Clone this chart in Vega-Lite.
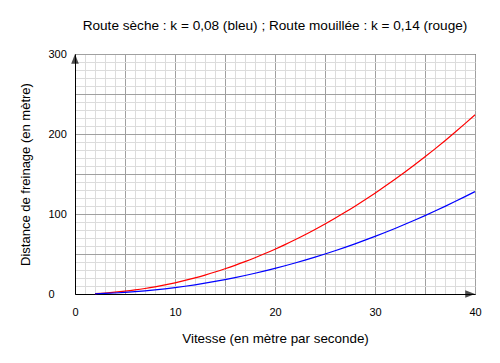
{
  "$schema": "https://vega.github.io/schema/vega-lite/v6.json",
  "width": 400,
  "height": 240,
  "autosize": {"type": "none"},
  "padding": {"left": 75, "top": 54, "right": 25, "bottom": 69},
  "background": "#ffffff",
  "config": {
    "view": {"stroke": "#000000", "strokeWidth": 1},
    "font": "Liberation Sans"
  },
  "title": {
    "text": "Route sèche : k = 0,08 (bleu) ; Route mouillée : k = 0,14 (rouge)",
    "font": "Liberation Sans",
    "fontSize": 13.6,
    "fontWeight": "normal",
    "color": "#000000",
    "anchor": "middle",
    "frame": "group",
    "baseline": "alphabetic",
    "offset": 4
  },
  "encoding": {
    "x": {
      "field": "v",
      "type": "quantitative",
      "scale": {"domain": [0, 40], "nice": false, "zero": false},
      "axis": {
        "title": "Vitesse (en mètre par seconde)",
        "values": [0,1,2,3,4,5,6,7,8,9,10,11,12,13,14,15,16,17,18,19,20,21,22,23,24,25,26,27,28,29,30,31,32,33,34,35,36,37,38,39,40],
        "labelExpr": "datum.value % 10 === 0 ? datum.label : ''",
        "labelOverlap": false,
        "labelFlush": false,
        "grid": true,
        "gridColor": {"condition": {"test": "datum.value % 5 === 0", "value": "#a0a0a0"}, "value": "#dcdcdc"},
        "gridWidth": 1,
        "ticks": false,
        "domainColor": "#000000",
        "domainWidth": 1,
        "labelPadding": 12,
        "labelBaseline": "top",
        "labelFont": "Liberation Sans",
        "labelFontSize": 11,
        "labelColor": "#000000",
        "titleFont": "Liberation Sans",
        "titleFontSize": 13.4,
        "titleFontWeight": "normal",
        "titleColor": "#000000",
        "titlePadding": 14
      }
    },
    "y": {
      "field": "d",
      "type": "quantitative",
      "scale": {"domain": [0, 300], "nice": false, "zero": false},
      "axis": {
        "title": "Distance de freinage (en mètre)",
        "values": [0,10,20,30,40,50,60,70,80,90,100,110,120,130,140,150,160,170,180,190,200,210,220,230,240,250,260,270,280,290,300],
        "labelExpr": "datum.value % 100 === 0 ? datum.label : ''",
        "labelOverlap": false,
        "labelFlush": false,
        "grid": true,
        "gridColor": {"condition": {"test": "datum.value % 50 === 0", "value": "#a0a0a0"}, "value": "#dcdcdc"},
        "gridWidth": 1,
        "ticks": false,
        "domainColor": "#000000",
        "domainWidth": 1,
        "labelPadding": 27,
        "labelAlign": "left",
        "labelBaseline": "middle",
        "labelFont": "Liberation Sans",
        "labelFontSize": 11,
        "labelColor": "#000000",
        "titleFont": "Liberation Sans",
        "titleFontSize": 13,
        "titleFontWeight": "normal",
        "titleColor": "#000000",
        "titlePadding": 16
      }
    }
  },
  "layer": [
    {
      "data": {
        "values": [
          {"v": 2, "bleu": 0.32, "rouge": 0.56},
          {"v": 3, "bleu": 0.72, "rouge": 1.26},
          {"v": 4, "bleu": 1.28, "rouge": 2.24},
          {"v": 5, "bleu": 2, "rouge": 3.5},
          {"v": 6, "bleu": 2.88, "rouge": 5.04},
          {"v": 7, "bleu": 3.92, "rouge": 6.86},
          {"v": 8, "bleu": 5.12, "rouge": 8.96},
          {"v": 9, "bleu": 6.48, "rouge": 11.34},
          {"v": 10, "bleu": 8, "rouge": 14},
          {"v": 11, "bleu": 9.68, "rouge": 16.94},
          {"v": 12, "bleu": 11.52, "rouge": 20.16},
          {"v": 13, "bleu": 13.52, "rouge": 23.66},
          {"v": 14, "bleu": 15.68, "rouge": 27.44},
          {"v": 15, "bleu": 18, "rouge": 31.5},
          {"v": 16, "bleu": 20.48, "rouge": 35.84},
          {"v": 17, "bleu": 23.12, "rouge": 40.46},
          {"v": 18, "bleu": 25.92, "rouge": 45.36},
          {"v": 19, "bleu": 28.88, "rouge": 50.54},
          {"v": 20, "bleu": 32, "rouge": 56},
          {"v": 21, "bleu": 35.28, "rouge": 61.74},
          {"v": 22, "bleu": 38.72, "rouge": 67.76},
          {"v": 23, "bleu": 42.32, "rouge": 74.06},
          {"v": 24, "bleu": 46.08, "rouge": 80.64},
          {"v": 25, "bleu": 50, "rouge": 87.5},
          {"v": 26, "bleu": 54.08, "rouge": 94.64},
          {"v": 27, "bleu": 58.32, "rouge": 102.06},
          {"v": 28, "bleu": 62.72, "rouge": 109.76},
          {"v": 29, "bleu": 67.28, "rouge": 117.74},
          {"v": 30, "bleu": 72, "rouge": 126},
          {"v": 31, "bleu": 76.88, "rouge": 134.54},
          {"v": 32, "bleu": 81.92, "rouge": 143.36},
          {"v": 33, "bleu": 87.12, "rouge": 152.46},
          {"v": 34, "bleu": 92.48, "rouge": 161.84},
          {"v": 35, "bleu": 98, "rouge": 171.5},
          {"v": 36, "bleu": 103.68, "rouge": 181.44},
          {"v": 37, "bleu": 109.52, "rouge": 191.66},
          {"v": 38, "bleu": 115.52, "rouge": 202.16},
          {"v": 39, "bleu": 121.68, "rouge": 212.94},
          {"v": 40, "bleu": 128, "rouge": 224}
        ]
      },
      "transform": [{"fold": ["rouge", "bleu"], "as": ["route", "d"]}],
      "mark": {"type": "line", "strokeWidth": 1.2, "interpolate": "monotone"},
      "encoding": {
        "color": {
          "field": "route",
          "type": "nominal",
          "scale": {"domain": ["bleu", "rouge"], "range": ["#0000ff", "#ff0000"]},
          "legend": null
        }
      }
    },
    {
      "data": {"values": [{"v": 0, "d": 300}]},
      "mark": {"type": "point", "shape": "M0,0L1.17,3L-1.17,3Z", "filled": true, "color": "#000000", "size": 42}
    },
    {
      "data": {"values": [{"v": 40, "d": 0}]},
      "mark": {"type": "point", "shape": "M0,0L-3,-1.17L-3,1.17Z", "filled": true, "color": "#000000", "size": 42}
    }
  ]
}
